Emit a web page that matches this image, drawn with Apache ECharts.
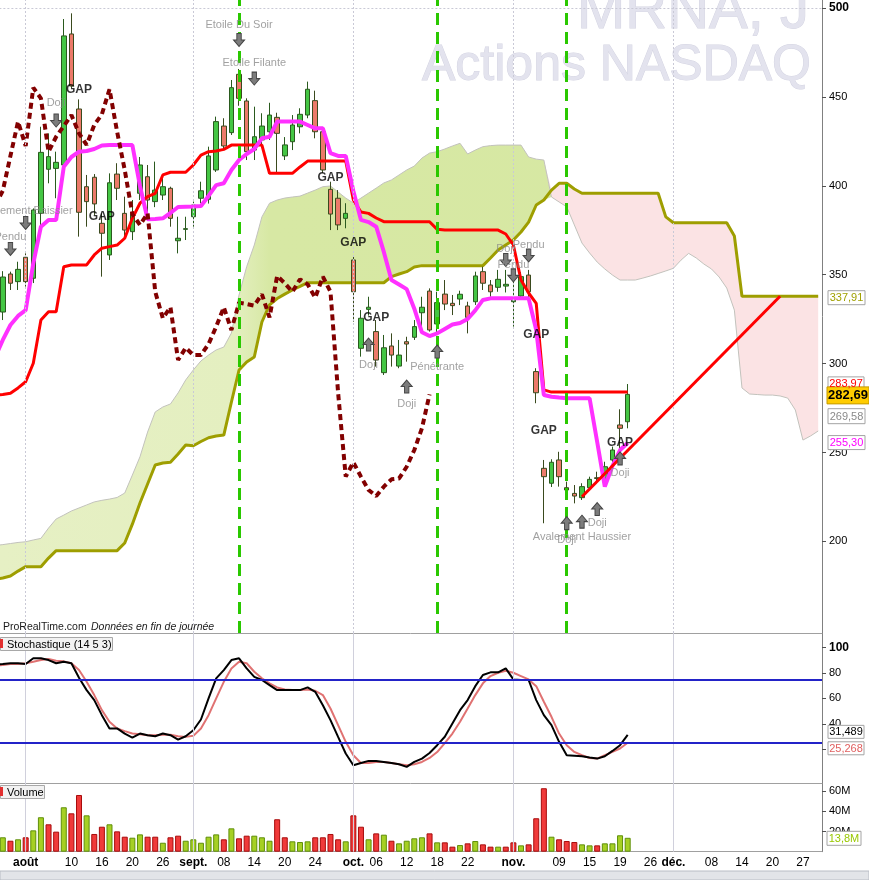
<!DOCTYPE html>
<html><head><meta charset="utf-8">
<script src="https://cdn.jsdelivr.net/npm/echarts@6/dist/echarts.min.js"></script>
<style>html,body{margin:0;padding:0;background:#fff}#c{width:869px;height:880px}</style>
</head><body><div id="c"></div>
<script>
// ---------- DATA ----------
const dates = ['07-27','07-28','07-29','07-30',
'08-02','08-03','08-04','08-05','08-06','08-09','08-10','08-11','08-12','08-13','08-16','08-17','08-18','08-19','08-20','08-23','08-24','08-25','08-26','08-27','08-30','08-31',
'09-01','09-02','09-03','09-07','09-08','09-09','09-10','09-13','09-14','09-15','09-16','09-17','09-20','09-21','09-22','09-23','09-24','09-27','09-28','09-29','09-30',
'10-01','10-04','10-05','10-06','10-07','10-08','10-11','10-12','10-13','10-14','10-15','10-18','10-19','10-20','10-21','10-22','10-25','10-26','10-27','10-28','10-29',
'11-01','11-02','11-03','11-04','11-05','11-08','11-09','11-10','11-11','11-12','11-15','11-16','11-17','11-18','11-19','11-22','11-23','11-24','11-26','11-29','11-30',
'12-01','12-02','12-03','12-06','12-07','12-08','12-09','12-10','12-13','12-14','12-15','12-16','12-17','12-20','12-21','12-22','12-23','12-27','12-28','12-29'];

const xTickLabels = {'08-02':'août','08-10':'10','08-16':'16','08-20':'20','08-26':'26','09-01':'sept.','09-08':'08','09-14':'14','09-20':'20','09-24':'24',
'10-01':'oct.','10-06':'06','10-12':'12','10-18':'18','10-22':'22','11-01':'nov.','11-09':'09','11-15':'15','11-19':'19','11-26':'26',
'12-01':'déc.','12-08':'08','12-14':'14','12-20':'20','12-27':'27'};
const monthStarts = ['08-02','09-01','10-01','11-01','12-01'];
const signalDates = ['09-10','10-18','11-10'];
const priceTicks = [200,250,300,350,400,450,500];
const stochTicks = [20,40,60,80,100];
const stochLevels = [75,25];
const volTicks = [20,40,60];

// [open, close, low, high]  (first day lies off the left edge)
const ohlc = [['-','-','-','-'],
[329.0,348.7,324.5,352.0],[350.4,345.2,341.4,351.7],[346.1,353.0,341.4,357.3],[359.8,346.1,343.3,362.0],[348.0,386.4,345.3,387.3],
[384.5,418.8,378.0,433.2],[409.3,416.4,401.4,429.5],[409.8,413.2,393.0,419.2],[411.7,484.3,406.0,493.8],[485.4,456.1,455.0,497.0],
[443.2,385.1,371.4,448.6],[399.5,391.1,377.0,406.1],[404.8,389.8,383.6,406.6],[378.9,373.3,348.9,384.5],[361.1,401.7,358.3,407.0],
[406.6,398.6,392.0,412.7],[384.5,375.1,369.5,393.9],[374.2,384.5,369.5,392.0],[395.8,411.7,392.0,416.2],[405.1,392.0,384.7,411.7],
[391.1,397.6,388.0,413.6],[394.8,399.5,392.0,405.1],[398.6,381.7,377.0,399.5],[369.1,370.5,362.0,382.6],[375.5,375.9,369.5,382.6],
[382.6,389.2,377.0,391.1],[393.0,397.2,390.2,402.3],[392.4,416.8,390.0,422.0],[408.9,436.1,407.8,438.9],[433.6,422.4,420.0,438.0],
[429.9,455.2,428.6,459.5],[462.7,449.2,445.0,465.7],[447.7,419.2,414.5,449.2],[420.1,427.6,414.5,444.5],[425.8,433.6,423.0,440.8],
[430.4,439.8,425.8,446.7],[438.5,429.5,407.0,441.1],[416.8,423.0,414.5,427.4],[424.8,434.2,420.1,439.8],[433.2,440.2,429.5,443.6],
[439.8,454.3,438.0,458.6],[447.9,430.4,426.7,453.5],[430.4,408.9,407.2,432.0],[398.0,384.1,375.1,402.3],[393.0,378.0,375.1,397.6],
[381.7,384.5,376.1,390.2],[358.3,340.4,323.6,360.0],[308.6,325.5,303.9,330.1],[330.5,331.7,327.0,337.6],[318.0,302.0,298.3,324.5],
[294.9,308.9,293.6,316.1],[309.9,304.8,298.3,317.0],[298.6,304.8,297.4,313.3],[312.3,311.0,301.1,315.1],[314.8,320.8,313.3,324.5],
[328.6,331.7,318.0,337.6],[340.8,318.9,318.0,342.3],[322.3,334.3,317.2,340.4],[339.1,333.5,330.1,347.0],[333.9,332.6,327.3,338.6],
[336.3,339.0,332.9,341.0],[332.4,326.0,317.0,334.8],[334.8,349.3,333.0,351.7],[351.7,345.2,341.4,354.5],[344.2,340.4,337.6,347.0],
[342.9,347.4,340.4,352.7],[343.6,344.6,340.0,352.7],[334.8,337.1,320.8,346.1],[338.0,348.9,336.0,351.5],[349.8,340.4,335.8,352.7],
[295.5,283.6,277.7,297.4],[241.1,236.4,210.2,245.8],[232.7,244.5,230.6,246.2],[245.8,236.4,230.8,250.4],[230.2,228.9,225.1,233.6],
[227.0,225.5,221.4,231.7],[224.6,230.8,223.3,232.7],[230.2,234.9,229.5,236.4],[235.8,235.4,232.7,239.2],[235.5,242.0,234.5,244.8],
[245.8,251.4,244.7,253.3],[265.5,263.6,251.4,274.3],[267.3,282.69,263.6,288.5]];

const volume = ['-',14.3,10.9,12.3,14.3,21.2,34.2,27.2,19.9,44.1,38.1,56.3,36.1,17.6,24.8,27.2,20.2,14.9,13.9,17.2,14.9,
14.9,8.9,14.3,15.9,10.9,12.3,8.9,14.9,17.2,12.3,23.2,13.3,15.9,15.9,14.3,10.9,32.2,14.3,10.3,9.6,
10.3,14.3,14.3,17.6,12.3,10.3,36.1,24.8,12.3,18.2,16.9,10.9,8.3,10.9,13.3,14.3,18.2,9.3,9.3,5.0,
6.6,8.3,10.6,7.3,5.0,5.0,5.0,9.3,6.3,7.3,33.2,63.0,14.9,12.3,10.6,9.6,7.3,6.3,6.3,8.3,
8.3,16.3,13.8];
const volumeDir = '-'+'GRGRGGRRGR'+'RGRRGRRGGR'+'RGRRGGGGGR'+'GRRGGGRRGG'+'GRRRRGRRGR'+'GRGGGGRGRR'+'GRGRRGRRGR'+'RRGRRRGGRG'+'GGG';

const stochK = [86.5,86.9,87.5,87.5,86.9,91.4,91.4,90.0,87.5,88.7,87.5,
76.2,66.5,58.7,46.9,36.5,36.5,32.5,29.4,32.5,31.2,
30.4,32.5,31.2,27.8,30.4,35.1,43.5,60.0,75.7,82.2,
90.0,91.4,83.5,76.9,74.4,70.4,66.5,66.5,66.5,66.5,
68.6,65.2,54.7,43.0,29.9,16.9,7.7,9.5,11.1,11.0,
10.3,9.5,8.5,6.4,10.3,12.9,17.3,23.4,30.0,40.4,
50.8,58.7,69.6,78.3,80.4,80.4,83.5,74.9,74.4,74.4,
58.7,46.9,39.1,26.0,15.5,15.1,14.7,13.7,12.9,14.7,
18.9,23.4,31.489];
const stochD = [85.8,86.1,86.9,86.9,87.5,88.7,90.0,90.8,89.5,89.0,87.5,
82.2,73.0,62.6,50.8,41.7,36.5,34.4,32.5,32.0,31.2,
31.2,31.6,31.6,30.4,29.9,30.7,36.5,46.9,60.0,73.0,
83.5,88.7,87.5,80.9,75.7,71.8,68.6,67.0,66.5,66.5,
67.0,66.0,62.6,52.1,39.1,26.0,15.5,9.5,9.5,10.3,
10.3,9.5,8.5,7.7,8.5,10.3,13.4,18.0,25.0,32.5,
41.7,52.1,62.6,71.8,77.5,80.1,81.7,80.1,77.5,74.9,
69.6,57.4,45.6,32.5,23.4,18.1,15.5,13.4,12.9,15.5,
18.1,20.8,25.268];

const tenkan = [282.3,282.6,283.3,286.3,289.8,300.2,324.5,329.2,329.2,354.5,355.5,
355.5,355.5,361.1,364.9,365.8,366.7,370.5,381.7,390.2,393.9,
395.8,406.1,407.6,407.6,407.6,411.7,417.3,419.2,419.6,420.5,
422.9,422.9,422.9,422.9,422.9,407.0,407.0,407.0,407.0,410.6,
413.9,413.9,413.9,413.9,413.9,413.9,392.0,385.3,384.5,381.9,
379.8,379.8,379.8,379.8,379.8,379.8,379.8,375.5,375.1,375.1,
375.1,375.1,375.1,375.1,375.1,375.1,372.9,366.7,347.0,339.7,
333.9,285.2,283.97,283.97,283.97,283.97,283.97,283.97,283.97,283.97,
283.97,283.97,283.97];
const kijun = [303.7,313.3,321.7,326.8,330.1,356.4,377.0,380.8,380.8,410.7,416.2,
419.2,419.6,420.7,422.7,422.9,422.9,422.9,422.9,399.9,381.2,
381.3,381.7,384.7,388.1,388.2,388.3,388.6,394.3,400.4,401.4,
408.9,414.5,417.9,420.7,426.7,427.6,436.1,436.1,436.1,436.1,
434.2,432.3,432.3,418.4,416.8,416.8,397.1,380.8,379.6,377.0,
362.8,347.0,344.5,341.9,330.9,317.6,315.5,317.0,319.5,322.0,
322.8,325.1,329.9,335.8,336.7,336.7,336.7,336.7,336.7,336.7,
318.9,282.3,281.4,280.9,280.5,280.5,280.5,280.5,255.9,230.8,
242.4,251.4,255.3];
const senkouA = [197.7,198.2,198.8,199.4,199.8,200.8,201.7,207.5,212.6,214.8,217.1,
218.8,220.5,222.2,223.1,223.8,224.7,227.2,237.3,247.6,261.5,
272.8,275.6,277.3,283.5,290.8,296.4,301.5,304.8,307.7,309.3,
317.2,338.6,354.5,366.7,382.5,390.2,392.0,393.1,393.7,394.2,
395.9,397.6,399.5,399.9,396.5,393.1,390.3,393.1,395.9,398.7,
401.6,403.3,406.1,408.9,411.1,415.6,418.4,419.2,420.7,422.4,
423.9,417.9,420.1,422.0,422.6,422.9,422.9,422.9,422.9,416.2,
415.0,414.5,393.7,390.9,388.2,378.0,367.8,362.2,357.1,353.2,
349.8,347.0,347.0,347.0,348.1,349.3,350.7,352.1,353.6,358.2,
362.0,359.4,356.0,353.2,348.7,342.5,330.1,286.3,282.9,282.6,
282.3,282.3,281.8,280.6,273.9,257.0,259.3,262.1];
const senkouB = [178.6,179.4,180.5,183.3,185.8,185.8,185.8,190.6,194.8,194.8,194.8,
194.8,194.8,194.8,194.8,194.8,194.8,199.1,209.7,221.6,232.3,
243.0,244.1,244.5,249.2,254.2,253.8,256.2,258.3,259.3,259.8,
278.4,296.4,300.9,303.7,323.4,333.0,336.6,339.1,341.4,343.4,
345.5,345.5,345.5,345.5,345.5,345.5,345.5,345.5,345.5,345.5,
345.5,348.9,350.4,351.7,354.3,355.1,355.1,355.1,355.1,355.1,
355.1,355.1,355.1,355.1,359.4,363.9,366.7,369.5,374.0,379.6,
389.2,392.0,397.6,401.4,401.4,398.2,395.8,395.8,395.8,395.8,
395.8,395.8,395.8,395.8,395.8,395.8,395.8,382.5,379.2,379.2,
379.2,379.2,379.2,379.2,379.2,379.2,371.8,337.91,337.91,337.91,
337.91,337.91,337.91,337.91,337.91,337.91,337.91,337.91];
const nextSenkouA = 269.58;
const trendLine = [['11-12',225.1],['12-21',337.9]];

const gapMarks = [['08-11',453.9],['08-16',382.5],['09-28',404.4],['10-01',367.8],['10-06',326.0],['11-04',316.1],['11-05',262.3],['11-19',255.5]];
// [date, arrow price, direction, label, label price]
const patterns = [
 ['07-29',364.5,'down','Pendu',371.4],
 ['08-02',379.1,'down','Avalement Baissier',386.0],
 ['08-06',436.7,'down','Doji',446.6],
 ['09-10',482.0,'down','Etoile Du Soir',490.4],
 ['09-14',460.3,'down','Etoile Filante',469.1],
 ['10-05',310.7,'up','Doji',299.2],
 ['10-12',287.1,'up','Doji',277.3],
 ['10-18',306.8,'up','Pénétrante',297.9],
 ['10-29',358.3,'down','Doji',364.5],
 ['11-01',349.6,'down','Pendu',355.5],
 ['11-03',360.8,'down','Pendu',366.7],
 ['11-19',246.7,'up','Doji',238.6],
 ['11-10',210.3,'up','Doji',200.8],
 ['11-12',211.1,'up','Avalement Haussier',202.5],
 ['11-16',218.2,'up','Doji',210.2]];

// ---------- BUILD ----------
const FONT = '"Liberation Sans", Arial, sans-serif';
const closes = ohlc.map(d => d[1]);
const chikou = dates.map((d, k) => (k + 26 < closes.length ? closes[k + 26] : '-'));
const cloudBase = senkouA.map((a, k) => Math.min(a, senkouB[k]));
const cloudUp = senkouA.map((a, k) => Math.max(a - senkouB[k], 0));
const cloudDown = senkouA.map((a, k) => Math.max(senkouB[k] - a, 0));
const ARROW_DOWN = 'path://M3,0H7V6H10L5,12L0,6H3Z';
const ARROW_UP = 'path://M5,0L10,6H7V12H3V6H0Z';

const chart = echarts.init(document.getElementById('c'), null, {renderer: 'canvas', width: 869, height: 880});

const vGrid = monthStarts.map(d => ({xAxis: d}));
const gridLineStyle = {color: '#c9c9d6', width: 1, type: [2, 2]};
const plainLine = (name, data, color, width, z, extra) => Object.assign({
  name, type: 'line', data, xAxisIndex: 0, yAxisIndex: 0, symbol: 'none', showSymbol: false,
  lineStyle: {color, width}, z, silent: true, animation: false
}, extra || {});
const GL = -8.62, GR = 47;
const gridBase = {left: GL, right: GR, containLabel: false, outerBoundsMode: 'none'};
const kumoGreen = new echarts.graphic.LinearGradient(0, 0, 869, 0, [
  {offset: 0, color: '#e6f0c4'}, {offset: 0.27, color: '#e4efc0'}, {offset: 0.31, color: '#d7e8a4'}, {offset: 1, color: '#d6e8a2'}], true);

const option = {
  animation: false,
  backgroundColor: '#ffffff',
  textStyle: {fontFamily: FONT},
  grid: [
    Object.assign({top: 0, height: 633}, gridBase),
    Object.assign({top: 633, height: 150}, gridBase),
    Object.assign({top: 783, height: 68.7}, gridBase)
  ],
  xAxis: [0, 1, 2].map(g => ({
    type: 'category', gridIndex: g, data: dates, boundaryGap: true,
    axisLine: {show: true, onZero: false, lineStyle: {color: '#a0a0a0', width: 1}},
    axisTick: {show: false},
    splitLine: {show: false},
    axisLabel: g === 2 ? {
      show: true, margin: 5, fontSize: 12, color: '#000', fontFamily: FONT,
      interval: (i, v) => xTickLabels[v] !== undefined,
      formatter: v => { const t = xTickLabels[v]; return monthStarts.includes(v) ? '{b|' + t + '}' : t; },
      rich: {b: {fontWeight: 'bold', fontSize: 12, color: '#000', fontFamily: FONT}}
    } : {show: false}
  })),
  yAxis: [
    {type: 'value', gridIndex: 0, position: 'right', min: 148.48, max: 504.5,
     axisLine: {show: true, lineStyle: {color: '#808080'}},
     axisTick: {show: true, length: 4, customValues: priceTicks, lineStyle: {color: '#505050'}},
     axisLabel: {customValues: priceTicks, margin: 7, fontSize: 11, color: '#000', fontFamily: FONT,
       formatter: v => v === 500 ? '{b|500}' : String(v), rich: {b: {fontWeight: 'bold', fontSize: 12, color: '#000'}}},
     splitLine: {show: false}},
    {type: 'value', gridIndex: 1, position: 'right', min: -6.2, max: 111.2,
     axisLine: {show: true, lineStyle: {color: '#808080'}},
     axisTick: {show: true, length: 4, customValues: stochTicks, lineStyle: {color: '#505050'}},
     axisLabel: {customValues: stochTicks, margin: 7, fontSize: 11, color: '#000', fontFamily: FONT,
       formatter: v => v === 100 ? '{b|100}' : String(v), rich: {b: {fontWeight: 'bold', fontSize: 12, color: '#000'}}},
     splitLine: {show: false}},
    {type: 'value', gridIndex: 2, position: 'right', min: 0, max: 68.2,
     axisLine: {show: true, lineStyle: {color: '#808080'}},
     axisTick: {show: true, length: 4, customValues: volTicks, lineStyle: {color: '#505050'}},
     axisLabel: {customValues: volTicks, margin: 7, fontSize: 11, color: '#000', fontFamily: FONT, formatter: v => v + 'M'},
     splitLine: {show: false}}
  ],
  series: [
    plainLine('kumoBase', cloudBase, 'rgba(0,0,0,0)', 0, 1, {stack: 'kumo', lineStyle: {opacity: 0},
      markLine: {silent: true, symbol: ['none', 'none'], label: {show: false}, lineStyle: gridLineStyle,
        data: vGrid.concat([{yAxis: 500}])}}),
    plainLine('kumoUp', cloudUp, 'rgba(0,0,0,0)', 0, 1, {stack: 'kumo', lineStyle: {opacity: 0}, areaStyle: {color: kumoGreen, opacity: 1}}),
    plainLine('kumoDown', cloudDown, 'rgba(0,0,0,0)', 0, 1, {stack: 'kumo', lineStyle: {opacity: 0}, areaStyle: {color: '#fbe3e4', opacity: 1}}),
    plainLine('SenkouA', senkouA, '#c2c2bc', 1, 2),
    plainLine('SenkouB', senkouB, '#9e9e00', 3, 2),
    {name: 'MRNA', type: 'candlestick', xAxisIndex: 0, yAxisIndex: 0, data: ohlc, barWidth: 5, z: 3, silent: true,
     itemStyle: {color: '#44c644', color0: '#ec7a6a', borderColor: '#2a5a1e', borderColor0: '#3a4a1e', borderWidth: 1}},
    plainLine('Tenkan', tenkan, '#ff0000', 3, 4),
    plainLine('Kijun', kijun, '#ff30ff', 4, 4),
    plainLine('Chikou', chikou, '#820000', 4, 4, {lineStyle: {color: '#820000', width: 4, type: [6, 4]}}),
    {name: 'marks', type: 'line', xAxisIndex: 0, yAxisIndex: 0, data: [], z: 5, silent: true,
     markLine: {silent: true, symbol: ['none', 'none'], label: {show: false},
       data: signalDates.map(d => ({xAxis: d, lineStyle: {color: '#2ac800', width: 3, type: [12, 7]}}))
         .concat([[{coord: trendLine[0], lineStyle: {color: '#ff0000', width: 3, type: 'solid'}}, {coord: trendLine[1]}]])}},
    {name: 'arrows', type: 'scatter', xAxisIndex: 0, yAxisIndex: 0, z: 6, silent: true,
     data: patterns.map(p => ({value: [p[0], p[1]], symbol: p[2] === 'down' ? ARROW_DOWN : ARROW_UP})),
     symbolSize: [11, 13], itemStyle: {color: '#7c7c7c', borderColor: '#454545', borderWidth: 1, opacity: 1}},
    {name: 'patternLabels', type: 'scatter', xAxisIndex: 0, yAxisIndex: 0, z: 6, silent: true,
     data: patterns.map(p => ({name: p[3], value: [p[0], p[4]]})), symbolSize: 0,
     itemStyle: {color: 'rgba(0,0,0,0)'},
     label: {show: true, position: 'inside', formatter: '{b}', fontSize: 11, color: '#8a8a8a', fontFamily: FONT}},
    {name: 'gaps', type: 'scatter', xAxisIndex: 0, yAxisIndex: 0, z: 6, silent: true,
     data: gapMarks.map(g => ({name: 'GAP', value: g})), symbolSize: 0,
     itemStyle: {color: 'rgba(0,0,0,0)'},
     label: {show: true, position: 'inside', formatter: '{b}', fontSize: 12, fontWeight: 'bold', color: '#000', fontFamily: FONT}},
    {name: '%K', type: 'line', xAxisIndex: 1, yAxisIndex: 1, data: stochK, symbol: 'none', z: 4, silent: true,
     lineStyle: {color: '#000000', width: 2},
     markLine: {silent: true, symbol: ['none', 'none'], label: {show: false},
       data: vGrid.map(v => Object.assign({lineStyle: {color: '#d0d0dc', width: 1, type: 'solid'}}, v))
         .concat(stochLevels.map(l => ({yAxis: l, lineStyle: {color: '#2323c8', width: 2, type: 'solid'}})))}},
    {name: '%D', type: 'line', xAxisIndex: 1, yAxisIndex: 1, data: stochD, symbol: 'none', z: 3, silent: true,
     lineStyle: {color: '#e07272', width: 2}},
    {name: 'volGrid', type: 'line', xAxisIndex: 2, yAxisIndex: 2, data: [], z: 1, silent: true,
     markLine: {silent: true, symbol: ['none', 'none'], label: {show: false}, lineStyle: {color: '#d0d0dc', width: 1, type: 'solid'}, data: vGrid}},
    {name: 'Volume', type: 'bar', xAxisIndex: 2, yAxisIndex: 2, barWidth: 6, z: 3, silent: true,
     data: volume.map((v, i) => ({value: v, itemStyle: volumeDir[i] === 'G'
       ? {color: '#a6d024', borderColor: '#5f8f0a', borderWidth: 1}
       : {color: '#f03a3a', borderColor: '#a80c0c', borderWidth: 1}}))}
  ]
};
chart.setOption(option);

// ---------- overlays ----------
const yPx = (axis, v) => chart.convertToPixel({yAxisIndex: axis}, v);
const fmt = (v, d) => v.toFixed(d).replace('.', ',');
function tag(x, yc, w, h, txt, color, font, fill, stroke) {
  return {type: 'group', z: 100, children: [
    {type: 'rect', z: 100, shape: {x: x, y: yc - h / 2, width: w, height: h}, style: {fill: fill || '#ffffff', stroke: stroke || '#a4a4a4', lineWidth: 1}},
    {type: 'text', z: 101, style: {text: txt, x: x + w / 2, y: yc + 0.5, fill: color, font: font || ('11px ' + FONT), textAlign: 'center', textVerticalAlign: 'middle', align: 'center', verticalAlign: 'middle'}}
  ]};
}
const lastClose = closes[closes.length - 1];
const lastTenkan = tenkan[tenkan.length - 1];
const lastKijun = kijun[kijun.length - 1];
const lastB = senkouB[senkouB.length - 1];
const yClose = yPx(0, lastClose);
const graphics = [
  {type: 'text', z: 0, style: {text: 'MRNA, J', x: 809, y: 12, fill: '#e3e3ee', stroke: '#d4d4e2', lineWidth: 1, font: '58px ' + FONT, textAlign: 'right', textVerticalAlign: 'middle', align: 'right', verticalAlign: 'middle'}},
  {type: 'text', z: 0, style: {text: 'Actions NASDAQ', x: 811, y: 66, fill: '#e3e3ee', stroke: '#d4d4e2', lineWidth: 1, font: '50px ' + FONT, textAlign: 'right', textVerticalAlign: 'middle', align: 'right', verticalAlign: 'middle'}},
  {type: 'text', z: 100, style: {text: 'ProRealTime.com', x: 3, y: 627, fill: '#1a1a1a', font: '10.5px ' + FONT, textVerticalAlign: 'middle', verticalAlign: 'middle'}},
  {type: 'text', z: 100, style: {text: 'Données en fin de journée', x: 91, y: 627, fill: '#1a1a1a', font: 'italic 10.5px ' + FONT, textVerticalAlign: 'middle', verticalAlign: 'middle'}},
  {type: 'rect', z: 100, shape: {x: 0.5, y: 637.5, width: 112, height: 13}, style: {fill: '#f2f2f2', stroke: '#a8a8a8', lineWidth: 1}},
  {type: 'rect', z: 101, shape: {x: 0, y: 639, width: 3, height: 9}, style: {fill: '#e23030'}},
  {type: 'text', z: 101, style: {text: 'Stochastique (14 5 3)', x: 7, y: 644.5, fill: '#000', font: '11px ' + FONT, textVerticalAlign: 'middle', verticalAlign: 'middle'}},
  {type: 'rect', z: 100, shape: {x: 0.5, y: 785.5, width: 44, height: 13}, style: {fill: '#f2f2f2', stroke: '#a8a8a8', lineWidth: 1}},
  {type: 'rect', z: 101, shape: {x: 0, y: 787, width: 3, height: 9}, style: {fill: '#e23030'}},
  {type: 'text', z: 101, style: {text: 'Volume', x: 7, y: 792.5, fill: '#000', font: '11px ' + FONT, textVerticalAlign: 'middle', verticalAlign: 'middle'}},
  {type: 'rect', z: 100, shape: {x: 0, y: 871, width: 869, height: 9}, style: {fill: '#e2e4e8', stroke: '#b8bcc4', lineWidth: 1}},
  tag(828, yPx(0, lastB) + 1.5, 37, 14, fmt(lastB, 2), '#a0a000'),
  tag(828, yClose - 11, 36, 13, fmt(lastTenkan, 2), '#ff0000'),
  tag(828, yPx(0, nextSenkouA) - 1.5, 37, 15, fmt(nextSenkouA, 2), '#8a8a8a'),
  tag(828, yPx(0, lastKijun) - 0.5, 37, 14, fmt(lastKijun, 2), '#ff00ff'),
  tag(827, yClose + 1, 42, 17, fmt(lastClose, 2), '#000', 'bold 13px ' + FONT, '#ffcc00', '#c49a00'),
  tag(828, yPx(1, stochK[stochK.length - 1]) - 3, 36, 13, fmt(stochK[stochK.length - 1], 3), '#000'),
  tag(828, yPx(1, stochD[stochD.length - 1]) + 5.5, 36, 13, fmt(stochD[stochD.length - 1], 3), '#e06060'),
  tag(827, yPx(2, volume[volume.length - 1]) + 0.5, 34, 14, fmt(volume[volume.length - 1], 1) + 'M', '#99c800')
];
chart.setOption({graphic: graphics});
</script></body></html>
